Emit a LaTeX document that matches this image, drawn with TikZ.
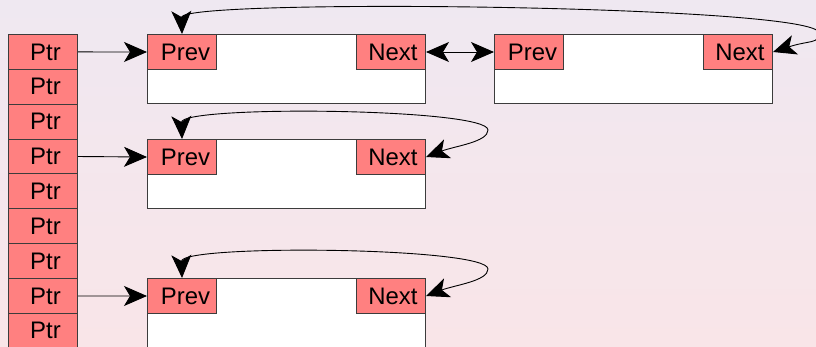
\documentclass[tikz,border=0pt]{standalone}
\usepackage{fontspec}
\setmainfont{Liberation Sans}
\usetikzlibrary{arrows.meta}
\definecolor{cellred}{RGB}{255,128,128}
\definecolor{bgtop}{RGB}{239,232,241}
\definecolor{bgbot}{RGB}{249,229,232}
\definecolor{edgegray}{RGB}{60,60,60}
\begin{document}
\begin{tikzpicture}[x=1bp,y=-1bp,
  ptrcell/.style={draw=edgegray, line width=1bp, fill=cellred, minimum width=69bp,
    minimum height=34.86bp, inner sep=0pt, anchor=north west,
    font=\fontsize{24}{24}\selectfont},
  body/.style={draw=edgegray, line width=1bp, fill=white, minimum width=278bp,
    minimum height=69bp, inner sep=0pt, anchor=north west},
  field/.style={draw=edgegray, line width=1bp, fill=cellred, minimum width=69bp,
    minimum height=35bp, inner sep=0pt, font=\fontsize{24}{24}\selectfont},
  tip/.tip={Stealth[length=23bp,width=20bp,inset=6bp]},
  link/.style={line width=0.9bp, black, -tip},
  dlink/.style={line width=0.9bp, black, tip-tip}
]
\shade[top color=bgtop,bottom color=bgbot] (0,0) rectangle (816,346);
\useasboundingbox (0,0) rectangle (816,346);
\clip (0,0) rectangle (816,346);

% pointer array
\foreach \i in {1,...,9}
  \node[ptrcell] (ptr\i) at (8,{34+(\i-1)*34.86}) {\hspace*{5bp}Ptr};

% list nodes
\node[body] (b1) at (147,34) {};
\node[field, anchor=north west] (p1) at (b1.north west) {\hspace*{7bp}Prev};
\node[field, anchor=north east] (x1) at (b1.north east) {\hspace*{4bp}Next};

\node[body] (b2) at (494,34) {};
\node[field, anchor=north west] (p2) at (b2.north west) {\hspace*{7bp}Prev};
\node[field, anchor=north east] (x2) at (b2.north east) {\hspace*{4bp}Next};

\node[body] (b3) at (147,139) {};
\node[field, anchor=north west] (p3) at (b3.north west) {\hspace*{7bp}Prev};
\node[field, anchor=north east] (x3) at (b3.north east) {\hspace*{4bp}Next};

\node[body] (b4) at (147,278) {};
\node[field, anchor=north west] (p4) at (b4.north west) {\hspace*{7bp}Prev};
\node[field, anchor=north east] (x4) at (b4.north east) {\hspace*{4bp}Next};

% pointer arrows
\draw[link] (ptr1.east) -- (p1.west);
\draw[link] (ptr4.east) -- (p3.west);
\draw[link] (ptr8.east) -- (p4.west);

% next <-> prev
\draw[dlink] (x1.east) -- (p2.west);

% wrap-around links
\draw[dlink] (x2.east) .. controls (810,40) and (819,44) .. (819,33)
  .. controls (819,5) and (181,-2) .. (p1.north);
\draw[dlink] (x3.east) .. controls (455,146) and (488,142) .. (488,130)
  .. controls (488,108) and (181,105) .. (p3.north);
\draw[dlink] (x4.east) .. controls (455,285) and (488,281) .. (488,269)
  .. controls (488,247) and (181,244) .. (p4.north);
\end{tikzpicture}
\end{document}
